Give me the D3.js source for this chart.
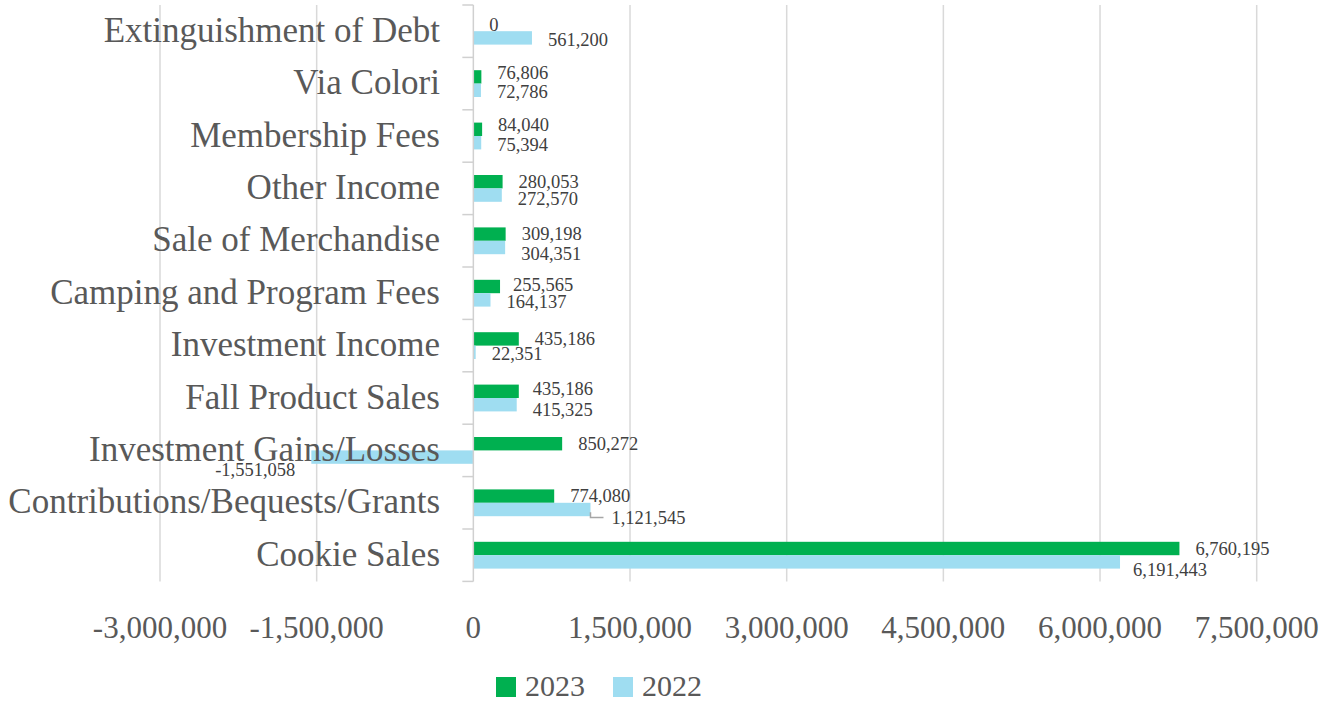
<!DOCTYPE html>
<html>
<head>
<meta charset="utf-8">
<script src="https://cdn.jsdelivr.net/npm/d3@7"></script>
<style>
  html, body { margin: 0; padding: 0; background: #ffffff; }
  svg { display: block; }
</style>
</head>
<body>
<svg id="chart" width="1325" height="703"></svg>
<script>
const categories = [
  "Extinguishment of Debt",
  "Via Colori",
  "Membership Fees",
  "Other Income",
  "Sale of Merchandise",
  "Camping and Program Fees",
  "Investment Income",
  "Fall Product Sales",
  "Investment Gains/Losses",
  "Contributions/Bequests/Grants",
  "Cookie Sales"
];
const values2023 = [0, 76806, 84040, 280053, 309198, 255565, 435186, 435186, 850272, 774080, 6760195];
const values2022 = [561200, 72786, 75394, 272570, 304351, 164137, 22351, 415325, -1551058, 1121545, 6191443];
const seriesNames = ["2023", "2022"];
const xTickValues = [-3000000, -1500000, 0, 1500000, 3000000, 4500000, 6000000, 7500000];

// label adjustments (layout only)
const labelNudge = {
  "Via Colori|2023": { dy: -4 },
  "Membership Fees|2023": { dy: -4 },
  "Other Income|2022": { dy: 2 },
  "Sale of Merchandise|2022": { dy: 4 },
  "Camping and Program Fees|2023": { dy: -2, dx: -3 },
  "Fall Product Sales|2023": { dy: -2, dx: -2 },
  "Fall Product Sales|2022": { dy: 3 },
  "Investment Gains/Losses|2022": { dy: 11 },
  "Contributions/Bequests/Grants|2022": { dy: 6, dx: 5, leader: true },
  "Cookie Sales|2022": { dy: 5.5, dx: -3 }
};

const colors = { "2023": "#00B050", "2022": "#9FDDF1" };
const fmt = d3.formatLocale({ decimal: ".", thousands: ",", grouping: [3], currency: ["$", ""], minus: "-" }).format(",");

const svg = d3.select("#chart");
const serif = "'Liberation Serif', 'Times New Roman', serif";

const x = d3.scaleLinear().domain([-3000000, 7500000]).range([160, 1256.7]);
const y = d3.scaleBand().domain(categories).range([5, 581.4]).padding(0);
const bw = y.bandwidth();
const ySub = d3.scaleBand().domain(seriesNames).range([bw * 0.2443, bw * 0.7557]).padding(0);

const plotTop = 5, plotBottom = 581.4;

// gridlines
svg.append("g").selectAll("line").data(xTickValues.filter(v => v !== 0)).join("line")
  .attr("x1", d => x(d)).attr("x2", d => x(d))
  .attr("y1", plotTop).attr("y2", plotBottom)
  .attr("stroke", "#D9D9D9").attr("stroke-width", 1.5);

// data rows
const rows = categories.map((c, i) => ({ cat: c, "2023": values2023[i], "2022": values2022[i] }));
const flat = [];
rows.forEach(r => seriesNames.forEach(s => flat.push({ cat: r.cat, series: s, value: r[s] })));

// bars
svg.append("g").selectAll("rect").data(flat).join("rect")
  .attr("x", d => Math.min(x(0), x(d.value)))
  .attr("width", d => Math.abs(x(d.value) - x(0)))
  .attr("y", d => y(d.cat) + ySub(d.series))
  .attr("height", ySub.bandwidth())
  .attr("fill", d => colors[d.series]);

// zero axis line + category ticks
const axisG = svg.append("g");
axisG.append("line")
  .attr("x1", x(0)).attr("x2", x(0))
  .attr("y1", plotTop).attr("y2", plotBottom)
  .attr("stroke", "#D0D0D0").attr("stroke-width", 1.5);
const boundaries = categories.map(c => y(c)).concat([plotBottom]);
axisG.selectAll("line.tick").data(boundaries).join("line")
  .attr("class", "tick")
  .attr("x1", x(0) - 11).attr("x2", x(0))
  .attr("y1", d => d).attr("y2", d => d)
  .attr("stroke", "#D0D0D0").attr("stroke-width", 1.5);

// category labels
const catFont = 35;
svg.append("g").selectAll("text").data(categories).join("text")
  .attr("x", 440)
  .attr("y", d => y(d) + bw / 2 - 1 + 0.331 * catFont)
  .attr("text-anchor", "end")
  .attr("font-family", serif)
  .attr("font-size", catFont)
  .attr("fill", "#595959")
  .text(d => d);

// x tick labels
const tickFont = 31;
svg.append("g").selectAll("text").data(xTickValues).join("text")
  .attr("x", d => x(d))
  .attr("y", 637.7)
  .attr("text-anchor", "middle")
  .attr("font-family", serif)
  .attr("font-size", tickFont)
  .attr("fill", "#595959")
  .text(d => fmt(d));

// value labels
const valFont = 18.5;
const labelsG = svg.append("g");
flat.forEach(d => {
  const n = labelNudge[d.cat + "|" + d.series] || {};
  const gap = 16;
  const barEnd = x(d.value);
  const cy = y(d.cat) + ySub(d.series) + ySub.bandwidth() / 2 + (d.series === "2022" ? 2 : 0) + (n.dy || 0);
  const neg = d.value < 0;
  const lx = neg ? barEnd - gap - (n.dx || 0) : barEnd + gap + (n.dx || 0);
  labelsG.append("text")
    .attr("x", lx)
    .attr("y", cy + 0.331 * valFont)
    .attr("text-anchor", neg ? "end" : "start")
    .attr("font-family", serif)
    .attr("font-size", valFont)
    .attr("fill", "#404040")
    .text(fmt(d.value));
  if (n.leader) {
    const barBottom = y(d.cat) + ySub(d.series) + ySub.bandwidth();
    labelsG.append("path")
      .attr("d", `M${barEnd},${barBottom - 4} V${cy} H${lx - 8}`)
      .attr("fill", "none")
      .attr("stroke", "#A6A6A6")
      .attr("stroke-width", 1.5);
  }
});

// legend
const legend = svg.append("g");
const legendItems = [
  { name: "2023", sx: 496, tx: 525 },
  { name: "2022", sx: 613, tx: 642 }
];
legendItems.forEach(it => {
  legend.append("rect")
    .attr("x", it.sx).attr("y", 677).attr("width", 20).attr("height", 20)
    .attr("fill", colors[it.name]);
  legend.append("text")
    .attr("x", it.tx).attr("y", 695.5)
    .attr("font-family", serif)
    .attr("font-size", 30)
    .attr("fill", "#595959")
    .text(it.name);
});
</script>
</body>
</html>
